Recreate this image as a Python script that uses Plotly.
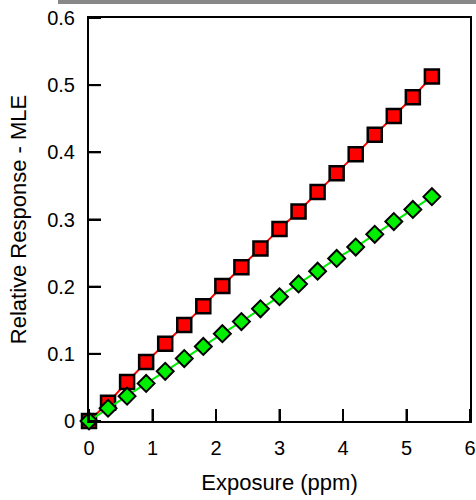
import plotly.graph_objects as go

exposure = [0, 0.3, 0.6, 0.9, 1.2, 1.5, 1.8, 2.1, 2.4, 2.7, 3.0, 3.3, 3.6, 3.9, 4.2, 4.5, 4.8, 5.1, 5.4]
red_series = [0, 0.027, 0.058, 0.088, 0.115, 0.143, 0.171, 0.201, 0.229, 0.257, 0.286, 0.312,
              0.341, 0.369, 0.397, 0.426, 0.454, 0.482, 0.513]
green_series = [0, 0.019, 0.037, 0.056, 0.074, 0.093, 0.111, 0.130, 0.148, 0.167, 0.185, 0.204,
                0.223, 0.242, 0.259, 0.278, 0.297, 0.315, 0.334]
x_ticks = [0, 1, 2, 3, 4, 5, 6]
y_ticks = [0, 0.1, 0.2, 0.3, 0.4, 0.5, 0.6]
y_tick_labels = ["0", "0.1", "0.2", "0.3", "0.4", "0.5", "0.6"]
x_range = [0, 6]
y_range = [0, 0.6]

fig = go.Figure()
fig.add_trace(go.Scatter(
    x=exposure, y=red_series, mode="lines+markers",
    line=dict(color="#ff0000", width=2),
    marker=dict(symbol="square", size=14, color="#ff0000", line=dict(color="black", width=2.5)),
    cliponaxis=False, showlegend=False))
fig.add_trace(go.Scatter(
    x=exposure, y=green_series, mode="lines+markers",
    line=dict(color="#00ee00", width=2),
    marker=dict(symbol="diamond", size=13, color="#00ee00", line=dict(color="black", width=2)),
    cliponaxis=False, showlegend=False))

W, H = 476, 500
ml, mr, mt, mb = 89, 6, 18, 79
PW, PH = W - ml - mr, H - mt - mb
TICK_LEN = 12

# inward-pointing tick marks at the axis tick values
tick_shapes = []
for t in x_ticks:
    tick_shapes.append(dict(type="line", xref="x", yref="paper", x0=t, x1=t,
                            y0=0, y1=TICK_LEN / PH, layer="above",
                            line=dict(color="black", width=2)))
for t in y_ticks:
    tick_shapes.append(dict(type="line", xref="paper", yref="y", y0=t, y1=t,
                            x0=0, x1=TICK_LEN / PW, layer="above",
                            line=dict(color="black", width=2)))

fig.update_layout(
    width=W, height=H,
    margin=dict(l=ml, r=mr, t=mt, b=mb, autoexpand=False),
    paper_bgcolor="white", plot_bgcolor="white",
    font=dict(family="Liberation Sans, Arial, sans-serif", color="black", size=20),
    xaxis=dict(range=x_range, tickvals=x_ticks, ticks="inside", ticklen=TICK_LEN, tickwidth=2,
               tickcolor="black", showline=True, linecolor="black",
               linewidth=2, mirror=True, showgrid=False, zeroline=False, automargin=False,
               ticklabelstandoff=8,
               title=dict(text="Exposure (ppm)", font=dict(size=22), standoff=17),
               tickfont=dict(size=20)),
    yaxis=dict(range=y_range, tickvals=y_ticks, ticktext=y_tick_labels, ticks="inside",
               ticklen=TICK_LEN, tickwidth=2, tickcolor="black",
               showline=True, linecolor="black", linewidth=2, mirror=True,
               showgrid=False, zeroline=False, automargin=False, ticklabelstandoff=8,
               title=dict(text="Relative Response - MLE", font=dict(size=22), standoff=14),
               tickfont=dict(size=20)),
    shapes=tick_shapes + [dict(type="rect", xref="paper", yref="paper",
                 x0=(58 - ml) / PW, x1=(W - ml) / PW,
                 y0=(H - mb - 4) / PH, y1=(H - mb) / PH,
                 fillcolor="#888888", line=dict(width=0))],
)
fig.write_html("out.html", config={"displayModeBar": False},
               post_script="document.body.style.margin='0';")
